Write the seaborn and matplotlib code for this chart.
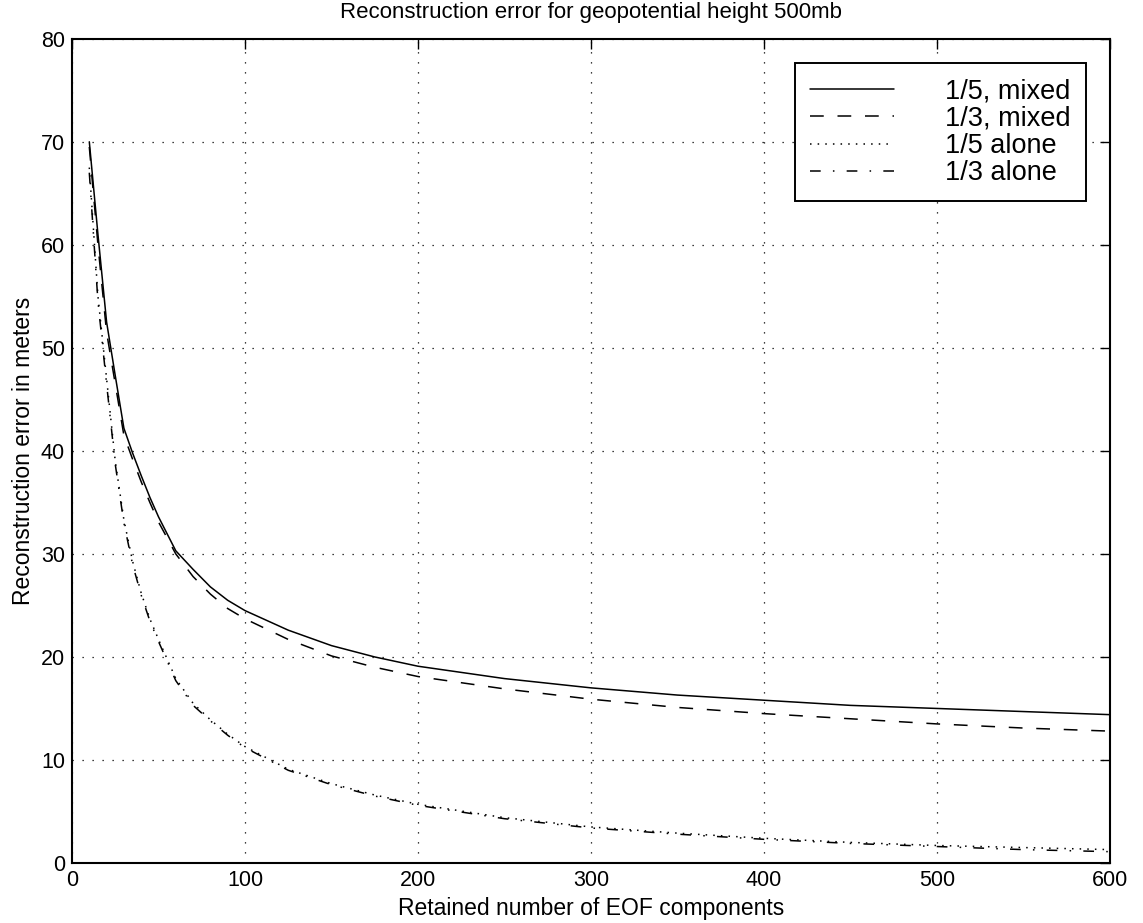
import matplotlib
matplotlib.use("Agg")
import matplotlib.pyplot as plt
import numpy as np
import pandas as pd
import seaborn as sns

# Number of retained EOF components
components = [10, 15, 20, 25, 30, 35, 40, 45, 50, 60, 70, 80, 90, 100, 125,
              150, 175, 200, 250, 300, 350, 400, 450, 500, 550, 600]

# Reconstruction error (m) for each configuration
err_fifth_mixed = [70.0, 61.0, 52.5, 47.3, 42.2, 39.8, 37.6, 35.5, 33.6, 30.3,
                   28.5, 26.8, 25.5, 24.5, 22.6, 21.1, 20.0, 19.1, 17.9, 17.0,
                   16.3, 15.8, 15.3, 15.0, 14.7, 14.4]
err_third_mixed = [69.5, 60.0, 51.5, 46.5, 41.5, 39.2, 37.0, 35.0, 33.1, 30.0,
                   27.8, 26.1, 24.7, 23.7, 21.7, 20.1, 19.0, 18.1, 16.9, 15.9,
                   15.1, 14.5, 14.0, 13.5, 13.1, 12.8]
err_fifth_alone = [67.5, 55.0, 47.0, 39.0, 33.3, 29.3, 26.2, 23.7, 21.7, 17.9,
                   15.5, 13.9, 12.5, 11.3, 9.1, 7.7, 6.6, 5.7, 4.4, 3.5, 2.9,
                   2.4, 2.0, 1.7, 1.5, 1.3]
err_third_alone = [67.0, 54.5, 46.5, 38.7, 33.0, 29.0, 26.0, 23.5, 21.5, 17.7,
                   15.3, 13.8, 12.4, 11.2, 9.0, 7.6, 6.5, 5.6, 4.3, 3.4, 2.8,
                   2.3, 1.9, 1.6, 1.3, 1.1]

series_names = ["1/5, mixed", "1/3, mixed", "1/5 alone", "1/3 alone"]
series_values = [err_fifth_mixed, err_third_mixed, err_fifth_alone, err_third_alone]

x_ticks = [0, 100, 200, 300, 400, 500, 600]
y_ticks = [0, 10, 20, 30, 40, 50, 60, 70, 80]

df = pd.concat(
    [pd.DataFrame({"components": components, "error": vals, "case": name})
     for name, vals in zip(series_names, series_values)],
    ignore_index=True,
)

sns.set_style("white")
plt.rcParams["font.family"] = ["Liberation Sans", "DejaVu Sans"]
plt.rcParams["text.color"] = "black"
plt.rcParams["axes.labelcolor"] = "black"

fig = plt.figure(figsize=(11.43, 9.23), dpi=100)
ax = fig.add_axes([0.063, 0.065, 0.908, 0.893])

line_dashes = {
    "1/5, mixed": "",
    "1/3, mixed": (9, 9),
    "1/5 alone": (1, 4),
    "1/3 alone": (7, 8, 1, 8),
}

sns.lineplot(data=df, x="components", y="error", hue="case", style="case",
             hue_order=series_names, style_order=series_names,
             palette=["black"] * 4, dashes=line_dashes, linewidth=1.1,
             ax=ax)

ax.set_xlim(0, 600)
ax.set_ylim(0, 80)
ax.set_xticks(x_ticks)
ax.set_yticks(y_ticks)
ax.tick_params(direction="in", length=7.5, width=1, top=True, right=True,
               labelsize=15.5, pad=5, colors="black")
ax.grid(True, color="black", linestyle=(0, (1, 7)), linewidth=0.9)
for sp in ax.spines.values():
    sp.set_visible(True)
    sp.set_color("black")
    sp.set_linewidth(1.5)

ax.set_xlabel("Retained number of EOF components", fontsize=16.5, labelpad=4)
ax.set_ylabel("Reconstruction error in meters", fontsize=16.5, labelpad=4)
ax.set_title("Reconstruction error for geopotential height 500mb",
             fontsize=16, pad=15)

leg = ax.legend(loc="upper right", bbox_to_anchor=(0.977, 0.97), fontsize=19.5,
                handlelength=3.1, handletextpad=1.9, labelspacing=0.05,
                borderpad=0.55, borderaxespad=0, fancybox=False, framealpha=1,
                edgecolor="black")
leg.get_frame().set_linewidth(1.4)
for line in leg.get_lines():
    line.set_linewidth(1.1)

fig.savefig("out.png", dpi=100)
